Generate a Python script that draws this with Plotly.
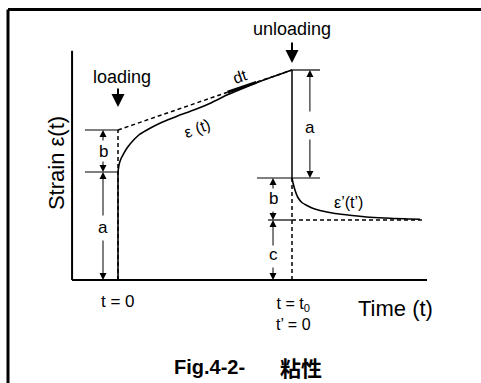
import plotly.graph_objects as go

W, H = 481, 383

# drawing scale: pixel position of (t = 0, strain = 0) and pixels per unit
ORIGIN_X, ORIGIN_Y = 118, 280
PX_PER_T = 17.4
PX_PER_EPS = 60.0

# model quantities
T0 = 10.0          # time of unloading
A = 1.8            # instantaneous elastic strain
B = 0.7            # delayed elastic strain
C = 1.0            # permanent (viscous) strain
T_END = 17.47      # end of the recovery record

# creep branch  ε(t), 0 <= t <= t0
creep_t = [0, 0.06, 0.17, 0.35, 0.57, 0.86, 1.26, 1.84, 2.53, 3.39, 4.43, 5.4, 6.32, 7.3, 8.45, 10.0]
creep_eps = [1.8, 1.92, 2.02, 2.12, 2.22, 2.32, 2.43, 2.53, 2.63, 2.73, 2.84, 2.96, 3.09, 3.21, 3.34, 3.5]

# recovery branch  ε'(t'), t >= t0
rec_t = [10.0, 10.06, 10.17, 10.34, 10.57, 10.86, 11.15, 11.61, 12.47, 13.45, 14.48, 15.63, 17.36]
rec_eps = [1.7, 1.617, 1.5, 1.375, 1.292, 1.242, 1.2, 1.158, 1.108, 1.075, 1.047, 1.028, 1.012]

# axis extents
T_AXIS = (-2.64, 17.76)
EPS_AXIS_TOP = 3.82

# the "dt" element on the tangent
DT_SPAN = (6.3, 7.95)

FONT = "Liberation Sans, Arial, sans-serif"
CJK = "Noto Sans CJK JP, Noto Sans CJK SC, sans-serif"
BLACK = "#000000"

x_range = [-ORIGIN_X / PX_PER_T, (W - ORIGIN_X) / PX_PER_T]
y_range = [(ORIGIN_Y - H) / PX_PER_EPS, ORIGIN_Y / PX_PER_EPS]

fig = go.Figure()

def line(xs, ys, width=1.5, dash="solid", shape="linear", smoothing=None):
    kw = dict(color=BLACK, width=width, dash=dash, shape=shape)
    if smoothing is not None:
        kw["smoothing"] = smoothing
    fig.add_trace(go.Scatter(x=xs, y=ys, mode="lines", line=kw,
                             hoverinfo="skip", showlegend=False))

DASH = "4px,3px"

# axes
line([T_AXIS[0], T_AXIS[1]], [0, 0], width=2)
line([T_AXIS[0], T_AXIS[0]], [0, EPS_AXIS_TOP], width=2)

# construction lines
line([0, 0], [0, A + B], width=1.5, dash=DASH)                       # t = 0
line([0, T0], [A + B, A + B + C], width=1.5, dash=DASH)              # tangent
line([T0, T0], [0, rec_eps[0]], width=1.5, dash=DASH)                # t = t0
line([T0, T_END], [C, C], width=1.5, dash=DASH)                      # permanent strain

# instantaneous loading, creep, instantaneous unloading, recovery
line([0, 0], [0, A], width=1.6)
line(creep_t, creep_eps, width=1.6, shape="spline", smoothing=0.6)
line([T0, T0], [A + B + C, rec_eps[0]], width=1.5)
line(rec_t, rec_eps, width=1.6, shape="spline", smoothing=0.6)

# dt element
slope = C / T0
line(list(DT_SPAN), [A + B + slope * DT_SPAN[0], A + B + slope * DT_SPAN[1]], width=3)

# extension lines for the dimensions
T_DIM_L = -0.862
T_DIM_RA = 11.03
T_DIM_RB = 8.91
line([-1.9, 0], [A + B, A + B], width=1.2)
line([-1.9, 0], [A, A], width=1.2)
line([T0, 11.61], [A + B + C, A + B + C], width=1.2)
line([7.99, 11.61], [rec_eps[0], rec_eps[0]], width=1.2)
line([8.62, T0], [C, C], width=1.2)

ann = []

def text(x, y, s, size=17, angle=0, family=FONT, xref="x", yref="y", xanchor="center"):
    ann.append(dict(x=x, y=y, xref=xref, yref=yref, text=s, showarrow=False,
                    textangle=angle, xanchor=xanchor, yanchor="middle",
                    font=dict(family=family, size=size, color=BLACK)))

def arrow(x, y, ay, width=1, size=1.4):
    ann.append(dict(x=x, y=y, xref="x", yref="y", text="", showarrow=True,
                    ax=0, ay=ay, arrowhead=2, arrowsize=size, arrowwidth=width,
                    arrowcolor=BLACK, standoff=0))

# dimension arrows: tip on the boundary, tail near the label (ay in pixels)
def dim(x, lo, hi, label, gap_top, gap_bot, label_y):
    hi_px = ORIGIN_Y - hi * PX_PER_EPS
    lo_px = ORIGIN_Y - lo * PX_PER_EPS
    arrow(x, hi, gap_top - hi_px)
    arrow(x, lo, gap_bot - lo_px)
    text(x, label_y, label)

dim(T_DIM_L, A, A + B, "b", 142, 160, A + B / 2)
dim(T_DIM_L, 0, A, "a", 217, 239, 0.88)
dim(T_DIM_RA, rec_eps[0], A + B + C, "a", 113, 138, 2.55)
dim(T_DIM_RB, C, rec_eps[0], "b", 190, 210, 1.36)
dim(T_DIM_RB, 0, C, "c", 247, 266, 0.43)

# loading / unloading markers
arrow(0, (ORIGIN_Y - 107) / PX_PER_EPS, -20, width=2, size=1.3)
arrow(T0, (ORIGIN_Y - 63) / PX_PER_EPS, -22, width=2, size=1.3)
text(0.23, 3.383, "loading", size=18)
text(T0, 4.183, "unloading", size=18)

# curve labels
text(7.01, 3.40, "dt", size=16, angle=-19)
text(4.54, 2.517, "ε (t)", size=16, angle=-20)
text(13.22, 1.30, "ε’(t’)", size=16)

# axis titles and tick notes
text(-3.56, 1.95, "Strain ε(t)", size=22, angle=-90)
text(0, -0.35, "t = 0", size=17)
text(T0 + 0.1, -0.57, "t = t<sub>0</sub><br>t’ = 0", size=16)
text(15.93, -0.483, "Time (t)", size=22)

# caption
text(172 / W, 1 - 367 / H, "<b>Fig.4-2-</b>", size=20, xref="paper", yref="paper", xanchor="left")
text(301 / W, 1 - 367 / H, "<b>粘性</b>", size=21, family=CJK, xref="paper", yref="paper")

# outer frame (open at the right and bottom edges)
shapes = [
    dict(type="line", xref="paper", yref="paper", x0=8 / W, x1=1.01,
         y0=1 - 9.5 / H, y1=1 - 9.5 / H, line=dict(color=BLACK, width=3)),
    dict(type="line", xref="paper", yref="paper", x0=8 / W, x1=8 / W,
         y0=1 - 9.5 / H, y1=-0.01, line=dict(color=BLACK, width=3)),
]

fig.update_layout(
    width=W, height=H,
    margin=dict(l=0, r=0, t=0, b=0),
    paper_bgcolor="white", plot_bgcolor="white",
    xaxis=dict(range=x_range, domain=[0, 1], visible=False, fixedrange=True),
    yaxis=dict(range=y_range, domain=[0, 1], visible=False, fixedrange=True),
    annotations=ann,
    shapes=shapes,
    showlegend=False,
)

fig.write_html("out.html")
